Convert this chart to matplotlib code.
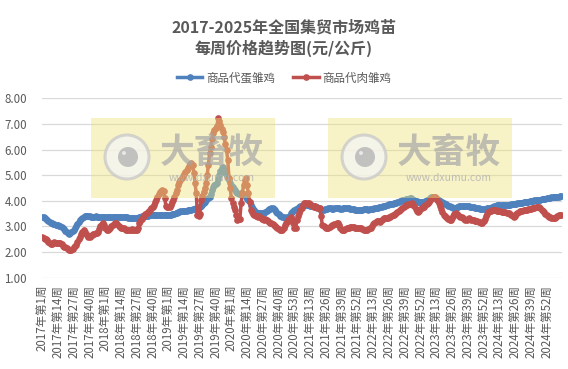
import matplotlib
matplotlib.use("Agg")
import matplotlib.pyplot as plt
from matplotlib.patches import Rectangle, Ellipse

plt.rcParams['font.family'] = ['Noto Sans CJK SC', 'DejaVu Sans']

# 商品代蛋雏鸡 weekly price (yuan/kg)
egg_2017 = [3.38, 3.36, 3.32, 3.28, 3.24, 3.21, 3.19, 3.15, 3.12, 3.10, 3.08, 3.07, 3.06,
            3.05, 3.03, 3.00, 2.99, 2.95, 2.90, 2.83, 2.77, 2.73, 2.72, 2.75, 2.80, 2.84,
            2.86, 2.92, 3.00, 3.10, 3.18, 3.25, 3.30, 3.34, 3.37, 3.39, 3.41, 3.41, 3.40,
            3.39, 3.38, 3.38, 3.37, 3.38, 3.39, 3.38, 3.38, 3.37, 3.37, 3.36, 3.36, 3.36]
egg_2018 = [3.36, 3.36, 3.37, 3.38, 3.38, 3.37, 3.36, 3.37, 3.38, 3.38, 3.37, 3.36, 3.35,
            3.36, 3.37, 3.36, 3.36, 3.36, 3.35, 3.34, 3.33, 3.33, 3.33, 3.32, 3.32, 3.32,
            3.32, 3.34, 3.36, 3.38, 3.39, 3.40, 3.41, 3.41, 3.41, 3.42, 3.43, 3.44, 3.45,
            3.45, 3.45, 3.44, 3.44, 3.44, 3.44, 3.44, 3.44, 3.45, 3.45, 3.45, 3.45, 3.45]
egg_2019 = [3.45, 3.45, 3.46, 3.47, 3.48, 3.50, 3.52, 3.54, 3.56, 3.58, 3.59, 3.60, 3.60,
            3.61, 3.61, 3.62, 3.63, 3.64, 3.65, 3.66, 3.67, 3.68, 3.70, 3.71, 3.73, 3.75,
            3.77, 3.80, 3.84, 3.90, 3.96, 4.03, 4.08, 4.12, 4.16, 4.28, 4.42, 4.55, 4.60,
            4.65, 4.70, 4.85, 5.00, 5.15, 5.27, 5.31, 5.20, 5.08, 4.97, 4.88, 4.81, 4.70]
egg_2020 = [4.60, 4.52, 4.46, 4.42, 4.35, 4.30, 4.28, 4.28, 4.29, 4.30, 4.28, 4.22, 4.15,
            4.08, 4.03, 3.95, 3.85, 3.75, 3.68, 3.64, 3.58, 3.52, 3.51, 3.51, 3.51, 3.52,
            3.51, 3.51, 3.55, 3.60, 3.64, 3.67, 3.70, 3.71, 3.71, 3.69, 3.64, 3.58, 3.52,
            3.47, 3.42, 3.39, 3.37, 3.35, 3.33, 3.34, 3.36, 3.38, 3.42, 3.51, 3.56, 3.60,
            3.64]
egg_2021 = [3.67, 3.70, 3.73, 3.77, 3.79, 3.81, 3.83, 3.84, 3.84, 3.84, 3.83, 3.82, 3.81,
            3.80, 3.79, 3.78, 3.77, 3.77, 3.75, 3.72, 3.69, 3.66, 3.64, 3.65, 3.67, 3.69,
            3.70, 3.71, 3.71, 3.71, 3.70, 3.70, 3.71, 3.71, 3.72, 3.71, 3.71, 3.70, 3.70,
            3.71, 3.72, 3.72, 3.71, 3.71, 3.71, 3.70, 3.69, 3.68, 3.67, 3.66, 3.65, 3.64]
egg_2022 = [3.64, 3.64, 3.65, 3.66, 3.67, 3.67, 3.67, 3.67, 3.66, 3.67, 3.68, 3.69, 3.70,
            3.71, 3.71, 3.72, 3.73, 3.75, 3.76, 3.77, 3.78, 3.80, 3.81, 3.83, 3.85, 3.86,
            3.87, 3.88, 3.89, 3.90, 3.91, 3.93, 3.95, 3.97, 3.99, 4.01, 4.02, 4.03, 4.05,
            4.07, 4.08, 4.09, 4.10, 4.10, 4.08, 4.05, 4.02, 4.00, 3.98, 3.97, 3.97, 3.97]
egg_2023 = [3.97, 3.97, 3.97, 3.99, 4.02, 4.05, 4.08, 4.11, 4.13, 4.15, 4.16, 4.14, 4.10,
            4.06, 4.02, 3.99, 3.97, 3.94, 3.91, 3.88, 3.86, 3.84, 3.81, 3.78, 3.76, 3.74,
            3.72, 3.71, 3.73, 3.75, 3.77, 3.78, 3.79, 3.79, 3.79, 3.78, 3.78, 3.78, 3.78,
            3.78, 3.77, 3.76, 3.75, 3.74, 3.73, 3.72, 3.71, 3.71, 3.70, 3.70, 3.70, 3.70]
egg_2024 = [3.70, 3.70, 3.71, 3.71, 3.72, 3.73, 3.74, 3.76, 3.78, 3.80, 3.82, 3.83, 3.84,
            3.84, 3.84, 3.84, 3.84, 3.84, 3.84, 3.84, 3.84, 3.85, 3.86, 3.87, 3.88, 3.88,
            3.89, 3.90, 3.90, 3.91, 3.92, 3.93, 3.94, 3.95, 3.96, 3.97, 3.97, 3.98, 3.99,
            4.00, 4.01, 4.02, 4.02, 4.03, 4.03, 4.04, 4.05, 4.06, 4.07, 4.08, 4.09, 4.10]
egg_2025 = [4.10, 4.11, 4.12, 4.13, 4.14, 4.14, 4.15, 4.15, 4.16, 4.16, 4.17, 4.17]

# 商品代肉雏鸡 weekly price (yuan/kg)
meat_2017 = [2.58, 2.55, 2.52, 2.50, 2.47, 2.40, 2.35, 2.30, 2.32, 2.34, 2.38, 2.36, 2.35,
             2.36, 2.34, 2.34, 2.30, 2.25, 2.20, 2.18, 2.15, 2.12, 2.10, 2.08, 2.08, 2.12,
             2.18, 2.25, 2.28, 2.40, 2.50, 2.60, 2.70, 2.80, 2.86, 2.80, 2.72, 2.65, 2.60,
             2.60, 2.62, 2.66, 2.70, 2.72, 2.73, 2.73, 2.80, 2.90, 3.00, 3.08, 3.12, 3.05]
meat_2018 = [2.95, 2.88, 2.86, 2.90, 2.95, 3.00, 3.05, 3.10, 3.12, 3.12, 3.08, 3.02, 2.98,
             2.95, 2.93, 2.93, 2.90, 2.88, 2.86, 2.86, 2.86, 2.88, 2.90, 2.88, 2.86, 2.85,
             2.85, 2.95, 3.12, 3.20, 3.28, 3.35, 3.42, 3.48, 3.51, 3.55, 3.60, 3.66, 3.72,
             3.77, 3.85, 3.95, 4.05, 4.15, 4.28, 4.36, 4.40, 4.42, 4.38, 4.10, 3.80, 3.77]
meat_2019 = [3.75, 3.77, 3.85, 3.95, 4.03, 4.15, 4.30, 4.42, 4.60, 4.75, 4.82, 4.90, 4.98,
             5.05, 5.12, 5.20, 5.28, 5.35, 5.42, 5.46, 5.40, 5.10, 4.70, 4.29, 3.45, 3.40,
             3.50, 4.03, 4.20, 4.35, 4.50, 4.68, 5.00, 5.40, 5.85, 6.10, 6.40, 6.63, 6.75,
             6.85, 6.90, 7.22, 7.10, 6.95, 6.80, 6.70, 6.50, 6.20, 5.98, 5.59, 4.90, 4.50]
meat_2020 = [4.10, 3.90, 3.75, 3.64, 3.45, 3.25, 3.28, 3.30, 3.90, 4.30, 4.60, 4.81, 4.88,
             4.60, 4.29, 3.95, 3.64, 3.55, 3.48, 3.45, 3.42, 3.40, 3.38, 3.42, 3.35, 3.30,
             3.28, 3.25, 3.30, 3.25, 3.20, 3.18, 3.15, 3.12, 3.08, 3.05, 3.00, 2.96, 2.93,
             2.90, 2.88, 2.86, 2.86, 2.95, 3.05, 3.12, 3.19, 3.25, 3.30, 3.35, 3.30, 3.12,
             2.95]
meat_2021 = [2.93, 3.25, 3.40, 3.52, 3.64, 3.72, 3.82, 3.90, 3.92, 3.90, 3.88, 3.90, 3.86,
             3.82, 3.80, 3.77, 3.78, 3.75, 3.72, 3.71, 3.71, 3.40, 3.06, 3.02, 2.98, 2.95,
             2.93, 2.95, 2.98, 3.02, 3.06, 3.06, 3.08, 3.10, 3.12, 3.12, 3.05, 2.95, 2.88,
             2.86, 2.88, 2.90, 2.92, 2.93, 2.95, 2.97, 2.99, 2.99, 2.97, 2.95, 2.94, 2.93]
meat_2022 = [2.93, 2.93, 2.92, 2.90, 2.88, 2.87, 2.86, 2.88, 2.90, 2.92, 2.93, 3.00, 3.08,
             3.14, 3.19, 3.20, 3.21, 3.20, 3.19, 3.24, 3.28, 3.32, 3.32, 3.32, 3.33, 3.35,
             3.38, 3.40, 3.43, 3.45, 3.48, 3.52, 3.56, 3.60, 3.64, 3.68, 3.72, 3.76, 3.80,
             3.82, 3.84, 3.86, 3.88, 3.89, 3.90, 3.85, 3.78, 3.70, 3.62, 3.55, 3.60, 3.68]
meat_2023 = [3.72, 3.75, 3.77, 3.82, 3.88, 3.92, 3.97, 4.02, 4.08, 4.13, 4.16, 4.15, 4.10,
             4.02, 3.90, 3.80, 3.68, 3.56, 3.45, 3.40, 3.36, 3.32, 3.28, 3.25, 3.26, 3.32,
             3.40, 3.48, 3.51, 3.48, 3.44, 3.40, 3.38, 3.36, 3.34, 3.30, 3.25, 3.26, 3.30,
             3.33, 3.30, 3.26, 3.25, 3.24, 3.22, 3.21, 3.20, 3.19, 3.17, 3.14, 3.12, 3.20]
meat_2024 = [3.30, 3.40, 3.50, 3.58, 3.60, 3.62, 3.63, 3.64, 3.64, 3.64, 3.62, 3.61, 3.60,
             3.59, 3.58, 3.57, 3.56, 3.55, 3.53, 3.52, 3.51, 3.48, 3.44, 3.40, 3.38, 3.42,
             3.48, 3.54, 3.58, 3.60, 3.61, 3.62, 3.63, 3.64, 3.65, 3.66, 3.68, 3.69, 3.70,
             3.71, 3.72, 3.73, 3.74, 3.76, 3.77, 3.76, 3.72, 3.66, 3.60, 3.55, 3.50, 3.45]
meat_2025 = [3.40, 3.38, 3.36, 3.34, 3.33, 3.32, 3.34, 3.38, 3.42, 3.45, 3.44, 3.45]

years = [2017, 2018, 2019, 2020, 2021, 2022, 2023, 2024, 2025]
egg = (egg_2017 + egg_2018 + egg_2019 + egg_2020 + egg_2021 + egg_2022
       + egg_2023 + egg_2024 + egg_2025)
meat = (meat_2017 + meat_2018 + meat_2019 + meat_2020 + meat_2021 + meat_2022
        + meat_2023 + meat_2024 + meat_2025)
year_lens = [len(egg_2017), len(egg_2018), len(egg_2019), len(egg_2020), len(egg_2021),
             len(egg_2022), len(egg_2023), len(egg_2024), len(egg_2025)]

# category names "YYYY年第W周"
weeks = []
for y, n in zip(years, year_lens):
    for w in range(1, n + 1):
        weeks.append(f"{y}年第{w}周")

W, H = 568, 369
fig = plt.figure(figsize=(W / 100, H / 100), dpi=100)
ax = fig.add_axes([41.7 / W, 1 - 277.7 / H, 520 / W, (277.7 - 98.3) / H])

x = list(range(len(weeks)))
ax.plot(x, egg, color='#4F81BD', lw=2.5, marker='o', ms=3.8, label='商品代蛋雏鸡', zorder=3)
ax.plot(x, meat, color='#C0504D', lw=2.5, marker='o', ms=3.8, label='商品代肉雏鸡', zorder=3)

ax.set_xlim(-0.5, len(weeks) - 0.5)
ax.set_ylim(1, 8)
ax.set_yticks(range(1, 9))
ax.set_yticklabels([f"{v:.2f}" for v in range(1, 9)])
ax.yaxis.grid(True, color='#D9D9D9', lw=0.9)
ax.set_axisbelow(True)
for s in ax.spines.values():
    s.set_visible(False)

tick_idx = list(range(0, len(weeks), 13))
ax.set_xticks(tick_idx)
ax.set_xticklabels([weeks[i] for i in tick_idx], rotation=90, fontsize=8.3, color='#595959')
ax.tick_params(axis='x', length=0, pad=5)
ax.tick_params(axis='y', length=0, pad=10.5, labelsize=8.3, labelcolor='#595959')

fig.text(0.5, 1 - 27 / H, "2017-2025年全国集贸市场鸡苗", ha='center', va='center',
         fontsize=11.5, fontweight='bold', color='#595959')
fig.text(0.5, 1 - 48 / H, "每周价格趋势图(元/公斤)", ha='center', va='center',
         fontsize=11.5, fontweight='bold', color='#595959')

fig.legend(loc='center', bbox_to_anchor=(0.5, 1 - 78 / H), ncol=2, frameon=False,
           fontsize=8.3, labelcolor='#595959', handlelength=2.2, columnspacing=1.6,
           handletextpad=0.3)

# watermark boxes
def px(xp, yp):
    return (xp / W, 1 - yp / H)

for left in (91, 328):
    fig.add_artist(Rectangle(px(left, 198), 184 / W, 80 / H, transform=fig.transFigure,
                             facecolor='#F0E47A', alpha=0.42, edgecolor='none', zorder=5))
    cx, cy = left + 36, 157
    fig.add_artist(Ellipse(px(cx, cy), 44 / W, 44 / H, transform=fig.transFigure,
                           facecolor='#F5F5F5', edgecolor='#C8C8C8', lw=2.2, alpha=0.75,
                           zorder=6))
    fig.add_artist(Ellipse(px(cx + 1, cy), 20 / W, 20 / H, transform=fig.transFigure,
                           facecolor='#B8B8B8', edgecolor='none', alpha=0.85, zorder=7))
    fig.add_artist(Ellipse(px(cx - 3, cy - 4), 4 / W, 4 / H, transform=fig.transFigure,
                           facecolor='#E8E8E8', edgecolor='none', zorder=8))
    fig.text(*px(left + 121, 152), "大畜牧", ha='center', va='center', fontsize=25,
             fontweight='bold', color='#A6A6A6', alpha=0.7, zorder=7)
    fig.text(*px(left + 121, 178), "www.dxumu.com", ha='center', va='center', fontsize=7.5,
             color='#B0B0B0', alpha=0.8, zorder=7)

fig.savefig("out.png", dpi=100)
